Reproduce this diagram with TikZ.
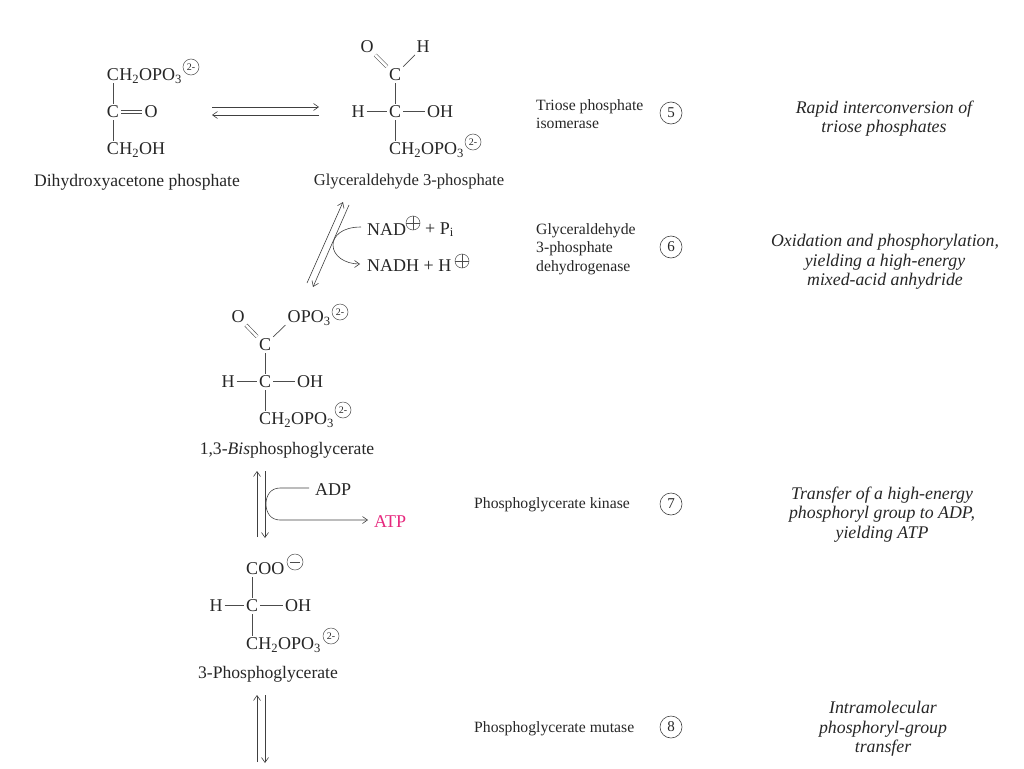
\documentclass[tikz,border=0pt]{standalone}
\usepackage{fontspec}
\setmainfont{Liberation Serif}
\usetikzlibrary{arrows.meta,positioning}
\definecolor{atppink}{RGB}{230,40,125}

\begin{document}
\begin{tikzpicture}[x=1pt,y=-1pt,
  txt/.style={inner sep=2pt,font=\fontsize{18}{20}\selectfont,text=black!85},
  atom/.style={txt,yshift=-.8pt},
  rest/.style={txt,inner xsep=0pt,anchor=base west},
  chg/.style={draw=black!70,circle,line width=.5pt,inner sep=0pt,minimum size=16pt,font=\fontsize{10}{10}\selectfont,text=black!85},
  bnd/.style={draw=black!70,line width=.7pt},
  dbl/.style={draw=black!70,line width=.6pt,double,double distance=2.6pt},
  a/.style={draw=black!75,line width=.6pt,-{Straight Barb[length=5pt,width=7pt]}},
  mol/.style={font=\fontsize{17.6}{20}\selectfont,text=black!85,inner sep=0pt},
  enz/.style={font=\fontsize{15.7}{18.3}\selectfont,text=black!85,align=left,anchor=west,inner sep=0pt},
  num/.style={draw=black!75,circle,line width=.6pt,inner sep=0pt,minimum size=22pt,font=\fontsize{15}{15}\selectfont,text=black!85},
  desc/.style={font=\fontsize{17.8}{19.7}\selectfont\itshape,text=black!85,align=center,inner sep=0pt}]
  \useasboundingbox (0,0) rectangle (1024,768);
  % Dihydroxyacetone phosphate
  \node[atom](dhC1) at (113,74){C};
  \node[rest](dhR1) at ([xshift=-2pt]dhC1.base east){H\textsubscript{2}OPO\textsubscript{3}};
  \node[chg](dhQ) at (191,67){2-};
  \node[atom](dhC2) at (113,111){C};
  \node[atom](dhO) at (151,111){O};
  \node[atom](dhC3) at (113,148){C};
  \node[rest](dhR3) at ([xshift=-2pt]dhC3.base east){H\textsubscript{2}OH};
  \node[mol](dhName) at (137,182){Dihydroxyacetone phosphate};
  \draw[bnd](dhC1)--(dhC2);
  \draw[bnd](dhC2)--(dhC3);
  \draw[bnd]([yshift=1.8pt]dhC2.east)--([yshift=1.8pt]dhO.west);
  \draw[bnd]([yshift=-1.8pt]dhC2.east)--([yshift=-1.8pt]dhO.west);
  % Glyceraldehyde 3-phosphate
  \node[atom](gaO) at (367,46){O};
  \node[atom](gaH) at (423,46){H};
  \node[atom](gaC1) at (395,74){C};
  \node[atom](gaC2) at (395,111){C};
  \node[atom](gaHl) at (358,111){H};
  \node[atom,anchor=west](gaOH) at (425,111){OH};
  \node[atom](gaC3) at (395,148){C};
  \node[rest](gaR3) at ([xshift=-2pt]gaC3.base east){H\textsubscript{2}OPO\textsubscript{3}};
  \node[chg](gaQ) at (473,142){2-};
  \node[mol,font=\fontsize{16.6}{20}\selectfont](gaName) at (409,182){Glyceraldehyde 3-phosphate};
  \draw[dbl](gaO)--(gaC1);
  \draw[bnd](gaH)--(gaC1);
  \draw[bnd](gaC1)--(gaC2);
  \draw[bnd](gaC2)--(gaC3);
  \draw[bnd](gaHl)--(gaC2);
  \draw[bnd](gaC2)--(gaOH);
  % 1,3-Bisphosphoglycerate
  \node[atom](bpO) at (238,316){O};
  \node[atom](bpOp) at (294,316){O};
  \node[rest](bpRp) at ([xshift=-2pt]bpOp.base east){PO\textsubscript{3}};
  \node[chg](bpQ1) at (340,312){2-};
  \node[atom](bpC1) at (265,344){C};
  \node[atom](bpC2) at (265,381){C};
  \node[atom](bpHl) at (228,381){H};
  \node[atom,anchor=west](bpOH) at (295,381){OH};
  \node[atom](bpC3) at (265,418){C};
  \node[rest](bpR3) at ([xshift=-2pt]bpC3.base east){H\textsubscript{2}OPO\textsubscript{3}};
  \node[chg](bpQ2) at (343,410){2-};
  \node[mol](bpName) at (287,450){1,3-\textit{Bis}phosphoglycerate};
  \draw[dbl](bpO)--(bpC1);
  \draw[bnd](bpOp)--(bpC1);
  \draw[bnd](bpC1)--(bpC2);
  \draw[bnd](bpC2)--(bpC3);
  \draw[bnd](bpHl)--(bpC2);
  \draw[bnd](bpC2)--(bpOH);
  % 3-Phosphoglycerate
  \node[atom](pgC1) at (252,568){C};
  \node[rest](pgR1) at ([xshift=-2pt]pgC1.base east){OO};
  \node[chg](pgQ1) at (295,562){};
  \node[atom](pgC2) at (252,605){C};
  \node[atom](pgHl) at (216,605){H};
  \node[atom,anchor=west](pgOH) at (283,605){OH};
  \node[atom](pgC3) at (252,643){C};
  \node[rest](pgR3) at ([xshift=-2pt]pgC3.base east){H\textsubscript{2}OPO\textsubscript{3}};
  \node[chg](pgQ2) at (331,636){2-};
  \node[mol](pgName) at (268,674){3-Phosphoglycerate};
  \draw[bnd](pgC1)--(pgC2);
  \draw[bnd](pgC2)--(pgC3);
  \draw[bnd](pgHl)--(pgC2);
  \draw[bnd](pgC2)--(pgOH);
  \draw[bnd]([xshift=3pt]pgQ1.west)--([xshift=-3pt]pgQ1.east);
  % Cofactors
  \node[atom,anchor=west,inner xsep=0pt](nad) at (367,229){NAD};
  \node[chg,minimum size=14pt](nadQ) at (413,223){};
  \node[atom,anchor=west,inner xsep=0pt](nadP) at (425,229){+ P\textsubscript{i}};
  \node[atom,anchor=west,inner xsep=0pt](nadh) at (367,265){NADH + H};
  \node[chg,minimum size=14pt](nadhQ) at (462,261){};
  \draw[bnd](nadQ.west)--(nadQ.east);
  \draw[bnd](nadQ.north)--(nadQ.south);
  \draw[bnd](nadhQ.west)--(nadhQ.east);
  \draw[bnd](nadhQ.north)--(nadhQ.south);
  \node[atom,anchor=west,inner xsep=0pt](adp) at (315,489){ADP};
  \node[atom,anchor=west,inner xsep=0pt,text=atppink](atp) at (374,521){ATP};
  % Reaction arrows, free ends are named coordinates
  \coordinate (r5a) at (212,107); \coordinate (r5b) at (319,107);
  \coordinate (r5c) at (319,115); \coordinate (r5d) at (212,115);
  \draw[a](r5a)--(r5b);
  \draw[a](r5c)--(r5d);
  \coordinate (r6a) at (307,283); \coordinate (r6b) at (343,202);
  \coordinate (r6c) at (349,205); \coordinate (r6d) at (313,287);
  \draw[a](r6a)--(r6b);
  \draw[a](r6c)--(r6d);
  \coordinate (r6m) at (333,245);
  \draw[a] ([xshift=-6pt,yshift=2.8pt]nad.west) .. controls (342,227) and (333,236) .. (r6m) .. controls (333,256) and (345,264) .. ([xshift=-7pt,yshift=1.8pt]nadh.west);
  \coordinate (r7a) at (257,537); \coordinate (r7b) at (257,471);
  \coordinate (r7c) at (265,471); \coordinate (r7d) at (265,538);
  \draw[a](r7a)--(r7b);
  \draw[a](r7c)--(r7d);
  \coordinate (r7m) at (266,504);
  \draw[a] ([xshift=-6pt,yshift=1.8pt]adp.west) -- (280,488) .. controls (271,488) and (266,495) .. (r7m) .. controls (266,513) and (271,520) .. (280,520) -- ([xshift=-6pt,yshift=1.8pt]atp.west);
  \coordinate (r8a) at (257,762); \coordinate (r8b) at (257,695);
  \coordinate (r8c) at (265,695); \coordinate (r8d) at (265,763);
  \draw[a](r8a)--(r8b);
  \draw[a](r8c)--(r8d);
  % Enzymes, step numbers, comments
  \node[enz](e5) at (536,114){Triose phosphate\\isomerase};
  \node[num](n5) at (671,113){5};
  \node[desc](d5) at (884,118.5){Rapid interconversion of\\triose phosphates};
  \node[enz](e6) at (536,249){Glyceraldehyde\\3-phosphate\\dehydrogenase};
  \node[num](n6) at (671,247){6};
  \node[desc](d6) at (885,262){Oxidation and phosphorylation,\\yielding a high-energy\\mixed-acid anhydride};
  \node[enz](e7) at (474,505){Phosphoglycerate kinase};
  \node[num](n7) at (671,504){7};
  \node[desc](d7) at (882,514.5){Transfer of a high-energy\\phosphoryl group to ADP,\\yielding ATP};
  \node[enz](e8) at (474,729){Phosphoglycerate mutase};
  \node[num](n8) at (671,727){8};
  \node[desc](d8) at (883,729){Intramolecular\\phosphoryl-group\\transfer};
\end{tikzpicture}
\end{document}
